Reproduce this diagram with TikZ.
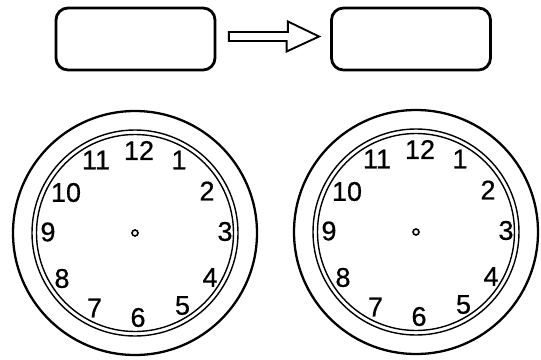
\documentclass[tikz,border=0pt]{standalone}
\usepackage{fontspec}
\setmainfont{Liberation Sans}
\newfontfamily\clockfont[FakeBold=0.6]{Liberation Sans}
\begin{document}
\begin{tikzpicture}[x=1pt,y=-1pt,
  box/.style={draw, line width=2.8pt, rounded corners=12pt, minimum width=159pt, minimum height=62pt, inner sep=0pt},
  blockarrow/.style={draw, line width=1.9pt, line join=miter},
  rim/.style={draw, circle, line width=2.3pt, minimum size=244pt, inner sep=0pt},
  ringa/.style={draw, circle, line width=1.4pt, minimum size=206pt, inner sep=0pt},
  ringb/.style={draw, circle, line width=1.4pt, minimum size=197pt, inner sep=0pt},
  hub/.style={draw, circle, line width=1.6pt, minimum size=6pt, inner sep=0pt},
  num/.style={font=\clockfont\fontsize{27}{27}\selectfont, inner sep=0pt}]
\useasboundingbox (0,0) rectangle (541,359);
% top boxes and arrow
\node[box] (b1) at (135.5,39) {};
\node[box] (b2) at (411,39) {};
\coordinate (as) at ([shift={(12.5,-2.5)}]b1.east);
\coordinate (at) at ([shift={(-11,-2.5)}]b2.west);
\draw[blockarrow] ([shift={(0,-4.5)}]as) -- ++(59,0) -- ++(0,-10.5) -- (at)
  -- ++(-32.5,15) -- ++(0,-10.5) -- ([shift={(0,4.5)}]as) -- cycle;
% clocks
\foreach \c/\cx/\cy in {c1/135/233, c2/416/232} {
  \node[rim] (\c o) at (\cx,\cy) {};
  \node[ringa] (\c a) at (\cx,\cy) {};
  \node[ringb] (\c b) at (\cx,\cy) {};
  \node[hub] (\c h) at (\cx,\cy) {};
  \foreach \n/\dx/\dy in {12/4/-82.5, 1/44/-73, 2/72/-42, 3/90/-1.5, 4/75/44.5, 5/47.5/72.5,
                          6/3/84.5, 7/-40.5/75, 8/-73/45.5, 9/-87/-1, 10/-69/-40.5, 11/-39/-73} {
    \node[num] (\c n\n) at (\cx+\dx,\cy+\dy) {\n};
  }
}
\end{tikzpicture}
\end{document}
